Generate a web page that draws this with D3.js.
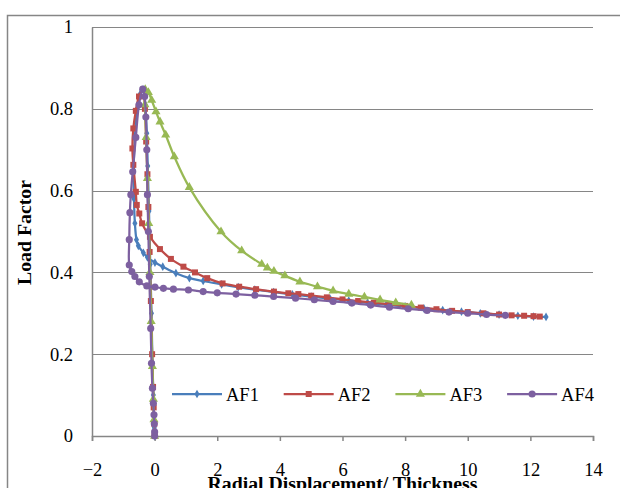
<!DOCTYPE html>
<html>
<head>
<meta charset="utf-8">
<script src="https://cdn.jsdelivr.net/npm/d3@7"></script>
<style>
  html, body { margin: 0; padding: 0; background: #fff; }
  svg text { font-family: "Liberation Serif", "Times New Roman", Times, "DejaVu Serif", serif; }
</style>
</head>
<body>
<svg id="chart" width="620" height="488"></svg>
<script>
// valores
const xTicks = [-2, 0, 2, 4, 6, 8, 10, 12, 14];
const yTicks = [0, 0.2, 0.4, 0.6, 0.8, 1];
const seriesNames = ["AF1", "AF2", "AF3", "AF4"];

const af1X = [0, -0.01, -0.02, -0.04, -0.07, -0.1, -0.14, -0.18, -0.22, -0.25, -0.3, -0.37, -0.47, -0.56, -0.63, -0.67, -0.66, -0.63, -0.58, -0.52, -0.36, -0.23, 0.01, 0.26, 0.68, 1.11, 1.55, 2.14, 2.67, 3.2, 3.8, 4.4, 5.0, 5.6, 6.2, 6.8, 7.4, 8.0, 8.6, 9.2, 9.8, 10.4, 11.0, 11.6, 12.1, 12.5];
const af1Y = [0, 0.02, 0.05, 0.1, 0.18, 0.3, 0.42, 0.55, 0.66, 0.74, 0.81, 0.847, 0.835, 0.8, 0.73, 0.65, 0.58, 0.52, 0.48, 0.465, 0.448, 0.437, 0.424, 0.414, 0.398, 0.386, 0.379, 0.371, 0.364, 0.358, 0.352, 0.346, 0.341, 0.336, 0.331, 0.326, 0.321, 0.317, 0.312, 0.308, 0.304, 0.3, 0.297, 0.294, 0.292, 0.291];

const af2X = [0, -0.01, -0.03, -0.05, -0.08, -0.12, -0.16, -0.2, -0.23, -0.27, -0.31, -0.37, -0.5, -0.6, -0.68, -0.71, -0.68, -0.6, -0.57, -0.49, -0.4, -0.15, 0.17, 0.52, 0.92, 1.29, 1.68, 2.17, 2.7, 3.24, 3.81, 4.27, 4.59, 5.0, 5.5, 6.0, 6.5, 7.0, 7.5, 8.0, 8.5, 9.0, 9.5, 10.0, 10.5, 11.0, 11.4, 11.8, 12.1, 12.3];
const af2Y = [0, 0.03, 0.07, 0.12, 0.2, 0.33, 0.45, 0.56, 0.64, 0.72, 0.8, 0.847, 0.83, 0.795, 0.752, 0.703, 0.663, 0.597, 0.565, 0.544, 0.52, 0.487, 0.457, 0.433, 0.414, 0.4, 0.386, 0.373, 0.365, 0.359, 0.353, 0.349, 0.347, 0.343, 0.339, 0.334, 0.33, 0.326, 0.322, 0.318, 0.314, 0.31, 0.306, 0.303, 0.3, 0.297, 0.295, 0.294, 0.293, 0.292];

const af3X = [0, -0.02, -0.04, -0.07, -0.11, -0.15, -0.19, -0.23, -0.27, -0.31, -0.3, -0.2, -0.094, 0.044, 0.172, 0.354, 0.629, 1.108, 2.12, 2.78, 3.42, 3.6, 3.81, 4.16, 4.64, 5.2, 5.7, 6.2, 6.7, 7.2, 7.7, 8.2];
const af3Y = [0, 0.04, 0.09, 0.17, 0.28, 0.4, 0.52, 0.63, 0.73, 0.81, 0.847, 0.84, 0.821, 0.793, 0.768, 0.736, 0.683, 0.608, 0.4995, 0.453, 0.42, 0.411, 0.403, 0.392, 0.377, 0.365, 0.355, 0.347, 0.34, 0.333, 0.326, 0.32];

const af4X = [0, 0, -0.01, -0.02, -0.04, -0.07, -0.1, -0.125, -0.17, -0.2, -0.23, -0.25, -0.28, -0.32, -0.38, -0.5, -0.6, -0.7, -0.76, -0.79, -0.81, -0.81, -0.73, -0.63, -0.49, -0.25, 0.01, 0.28, 0.6, 1.08, 1.55, 2.0, 2.6, 3.2, 3.8, 4.5, 5.1, 5.7, 6.3, 6.9, 7.5, 8.1, 8.7, 9.4, 10.0, 10.6, 11.2];
const af4Y = [0, 0.01, 0.03, 0.052, 0.08, 0.117, 0.178, 0.263, 0.39, 0.5, 0.59, 0.7, 0.78, 0.83, 0.848, 0.81, 0.73, 0.646, 0.59, 0.546, 0.48, 0.418, 0.402, 0.39, 0.377, 0.367, 0.364, 0.361, 0.359, 0.357, 0.353, 0.35, 0.347, 0.344, 0.341, 0.337, 0.333, 0.329, 0.325, 0.32, 0.315, 0.311, 0.307, 0.303, 0.3, 0.297, 0.295];

const colors = ["#4A7EBB", "#BE4B48", "#98B954", "#7D60A0"];
const symbols = [d3.symbolDiamond, d3.symbolSquare, d3.symbolTriangle, d3.symbolCircle];
const symSizes = [22, 36, 36, 40];

const series = [
  { name: seriesNames[0], xs: af1X, ys: af1Y },
  { name: seriesNames[1], xs: af2X, ys: af2Y },
  { name: seriesNames[2], xs: af3X, ys: af3Y },
  { name: seriesNames[3], xs: af4X, ys: af4Y }
].map((s, i) => ({ ...s, color: colors[i], symbol: symbols[i], size: symSizes[i],
  points: s.xs.map((x, j) => [x, s.ys[j]]) }));

const svg = d3.select("#chart");
const axisColor = "#868686";
const serif = '"Liberation Serif", "Times New Roman", Times, "DejaVu Serif", serif';

// borda externa do gráfico
svg.append("rect")
  .attr("x", 7.5).attr("y", 15.5)
  .attr("width", 640).attr("height", 500)
  .attr("fill", "none").attr("stroke", axisColor).attr("stroke-width", 1.5);

const x = d3.scaleLinear().domain([-2, 14]).range([92, 593]);
const y = d3.scaleLinear().domain([0, 1]).range([436, 27]);

// linhas de grade
svg.append("g")
  .selectAll("line")
  .data(yTicks.filter(d => d > 0))
  .join("line")
  .attr("x1", x(-2)).attr("x2", x(14))
  .attr("y1", d => Math.round(y(d)) + 0.5).attr("y2", d => Math.round(y(d)) + 0.5)
  .attr("stroke", axisColor).attr("stroke-width", 1);

// eixo y
const yAxis = svg.append("g")
  .attr("transform", `translate(${x(-2)},0)`)
  .call(d3.axisLeft(y).tickValues(yTicks).tickSize(0).tickPadding(19).tickFormat(d3.format("")));
yAxis.attr("font-family", serif);
yAxis.select(".domain").attr("stroke", axisColor).attr("stroke-width", 1.5);
yAxis.selectAll("text").attr("font-size", 18.5).attr("fill", "#000");

// eixo x
const xAxis = svg.append("g")
  .attr("transform", `translate(0,${y(0)})`)
  .call(d3.axisBottom(x).tickValues(xTicks).tickSize(5).tickSizeOuter(5).tickPadding(22));
xAxis.attr("font-family", serif);
xAxis.select(".domain").attr("stroke", axisColor).attr("stroke-width", 1.5);
xAxis.selectAll(".tick line").attr("stroke", axisColor).attr("stroke-width", 1.5);
xAxis.selectAll("text").attr("font-size", 18.5).attr("fill", "#000");

// títulos dos eixos
svg.append("text")
  .attr("x", (x(-2) + x(14)) / 2).attr("y", 490)
  .attr("text-anchor", "middle")
  .attr("font-size", 19.8).attr("font-weight", "bold")
  .text("Radial Displacement/ Thickness");

svg.append("text")
  .attr("transform", `translate(31,${y(0.5) + 1}) rotate(-90)`)
  .attr("text-anchor", "middle")
  .attr("font-size", 19.8).attr("font-weight", "bold")
  .text("Load Factor");

// séries
const line = d3.line()
  .x(d => x(d[0])).y(d => y(d[1]))
  .curve(d3.curveCatmullRom.alpha(0.5));

series.forEach(s => {
  const g = svg.append("g");
  g.append("path")
    .datum(s.points)
    .attr("fill", "none")
    .attr("stroke", s.color)
    .attr("stroke-width", 2.25)
    .attr("stroke-linejoin", "round")
    .attr("d", line);
  g.selectAll("path.m")
    .data(s.points)
    .join("path")
    .attr("class", "m")
    .attr("transform", d => `translate(${x(d[0])},${y(d[1])})`)
    .attr("d", d3.symbol().type(s.symbol).size(s.size))
    .attr("fill", s.color);
});

// legenda
const legend = svg.append("g").attr("transform", "translate(172,394)");
series.forEach((s, i) => {
  const lg = legend.append("g").attr("transform", `translate(${i * 111.7},0)`);
  lg.append("line").attr("x1", 0).attr("x2", 50).attr("y1", 0).attr("y2", 0)
    .attr("stroke", s.color).attr("stroke-width", 2.25);
  lg.append("path").attr("transform", "translate(25,0)")
    .attr("d", d3.symbol().type(s.symbol).size(s.size)).attr("fill", s.color);
  lg.append("text").attr("x", 54).attr("y", 6.5)
    .attr("font-size", 18.5).text(s.name);
});
</script>
</body>
</html>
